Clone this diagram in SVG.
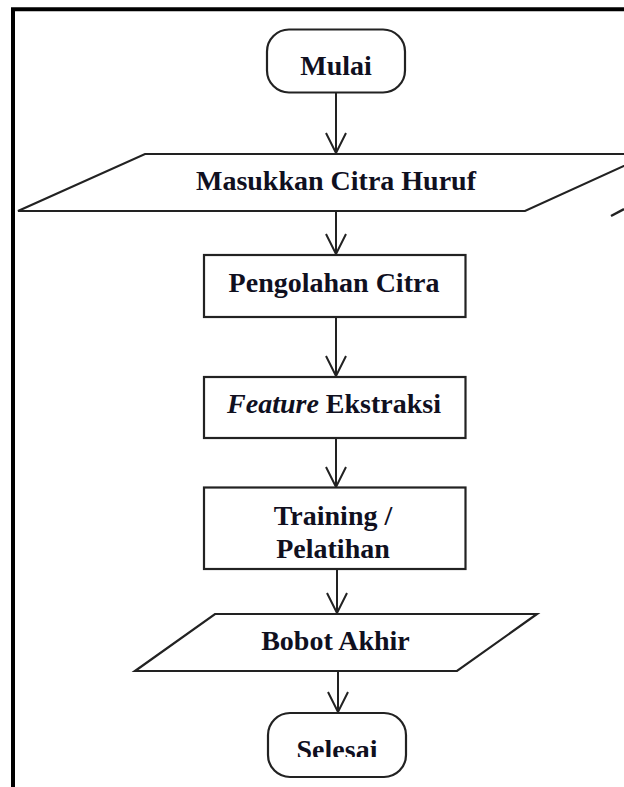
<svg xmlns="http://www.w3.org/2000/svg" width="624" height="787" viewBox="0 0 624 787">
  <defs>
    <style>
      .shape { fill: #ffffff; stroke: #222222; stroke-width: 2.2; }
      .conn { fill: none; stroke: #222222; stroke-width: 2; }
      .lbl { font-family: "Liberation Serif", "Times New Roman", serif; font-weight: bold; font-size: 28px; fill: #10101f; text-anchor: middle; }
    </style>
    <marker id="v" viewBox="-22 -12 24 24" refX="0" refY="0" markerWidth="24" markerHeight="24" markerUnits="userSpaceOnUse" orient="auto">
      <path d="M -20,-10 L 0,0 L -20,10" fill="none" stroke="#222222" stroke-width="2"/>
    </marker>
    <clipPath id="clipSel">
      <rect x="0" y="700" width="624" height="57"/>
    </clipPath>
  </defs>
  <rect x="0" y="0" width="624" height="787" fill="#ffffff"/>
  <path d="M 13,787 L 13,9.3 L 624,9.3" fill="none" stroke="#000000" stroke-width="4"/>

  <g id="connectors">
    <line class="conn" x1="336" y1="92.5" x2="336" y2="153" marker-end="url(#v)"/>
    <line class="conn" x1="336" y1="211" x2="336" y2="254" marker-end="url(#v)"/>
    <line class="conn" x1="336" y1="317" x2="336" y2="376" marker-end="url(#v)"/>
    <line class="conn" x1="336" y1="438" x2="336" y2="487" marker-end="url(#v)"/>
    <line class="conn" x1="337" y1="569" x2="337" y2="613" marker-end="url(#v)"/>
    <line class="conn" x1="338" y1="671" x2="338" y2="712" marker-end="url(#v)"/>
  </g>

  <g id="mulai">
    <rect class="shape" x="267" y="29.5" width="138" height="63" rx="22" ry="22"/>
    <text class="lbl" x="336" y="75">Mulai</text>
  </g>

  <g id="masukkan">
    <polygon class="shape" points="145,154 650,154 525,211 18,211"/>
    <text class="lbl" x="336" y="190">Masukkan Citra Huruf</text>
  </g>

  <g id="fragment">
    <line x1="611" y1="216" x2="624" y2="209" stroke="#222222" stroke-width="2.5"/>
  </g>

  <g id="pengolahan">
    <rect class="shape" x="204" y="255" width="261.5" height="62"/>
    <text class="lbl" x="334" y="292">Pengolahan Citra</text>
  </g>

  <g id="feature">
    <rect class="shape" x="204" y="377" width="261.5" height="61"/>
    <text class="lbl" x="334" y="413"><tspan font-style="italic">Feature</tspan> Ekstraksi</text>
  </g>

  <g id="training">
    <rect class="shape" x="204" y="487.5" width="261.5" height="81.5"/>
    <text class="lbl" x="333" y="525">Training /</text>
    <text class="lbl" x="333" y="558">Pelatihan</text>
  </g>

  <g id="bobot">
    <polygon class="shape" points="215,614 537,614 457,671 135,671"/>
    <text class="lbl" x="335.5" y="650">Bobot Akhir</text>
  </g>

  <g id="selesai">
    <rect class="shape" x="268" y="713" width="138" height="64" rx="22" ry="22"/>
    <text class="lbl" x="337" y="759" clip-path="url(#clipSel)">Selesai</text>
  </g>
</svg>
